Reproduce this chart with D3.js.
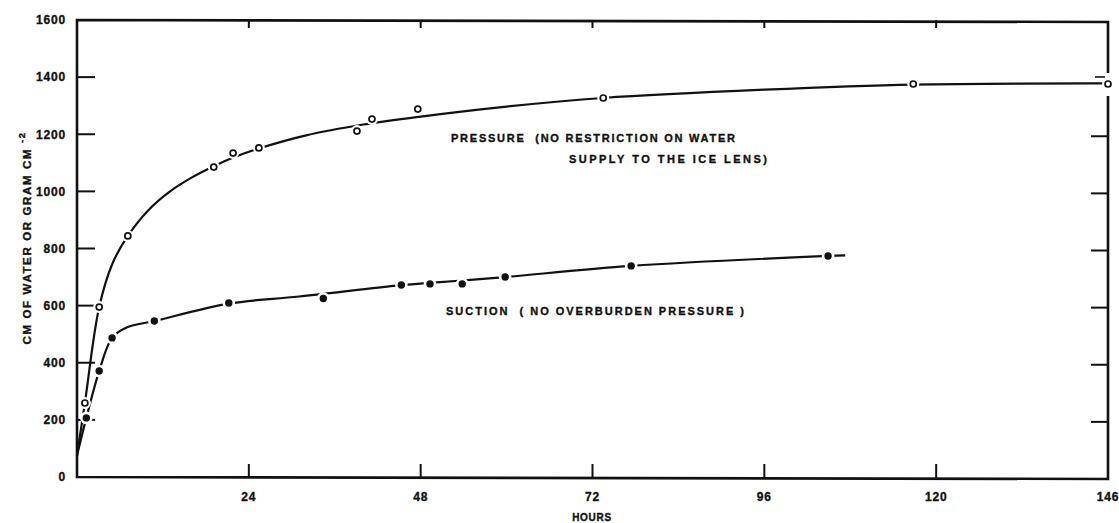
<!DOCTYPE html>
<html>
<head>
<meta charset="utf-8">
<script src="https://cdn.jsdelivr.net/npm/d3@7"></script>
<style>
  html, body { margin: 0; padding: 0; background: #fff; }
  svg { display: block; }
  text { font-family: "Liberation Sans", Arial, sans-serif; font-weight: bold; fill: #111; stroke: #111; stroke-width: 0.35; white-space: pre; }
</style>
</head>
<body>
<svg id="chart" width="1119" height="523"></svg>
<script>
// ---------------- data ----------------
const xTickValues = [24, 48, 72, 96, 120, 144];
const xTickLabels = ["24", "48", "72", "96", "120", "146"];
const yTickValues = [0, 200, 400, 600, 800, 1000, 1200, 1400, 1600];
const yTickLabels = ["0", "200", "400", "600", "800", "1000", "1200", "1400", "1600"];

// Pressure (no restriction on water supply) – open circles
const pressureHours  = [1.1, 3.1, 7.1, 19.1, 21.8, 25.4, 39.1, 41.2, 47.6, 73.5, 116.8, 144];
const pressureValues = [259, 595, 844, 1085, 1134, 1152, 1211, 1253, 1288, 1327, 1376, 1376];
// drawn curve for pressure
const pressureCurveHours  = [0, 1.1, 3.1, 5, 7.1, 10, 13, 16, 19.1, 22, 25.4, 32, 40, 48, 60, 73.5, 96, 116.8, 144];
const pressureCurveValues = [75, 259, 595, 750, 844, 935, 1000, 1048, 1088, 1120, 1150, 1196, 1234, 1262, 1297, 1327, 1356, 1374, 1378];

// Suction (no overburden pressure) – filled dots
const suctionHours  = [1.3, 3.1, 4.9, 10.8, 21.2, 34.4, 45.3, 49.3, 53.8, 59.8, 77.4, 104.9];
const suctionValues = [207, 371, 487, 546, 609, 625, 672, 676, 676, 700, 739, 774];
// drawn curve for suction
const suctionCurveHours  = [0, 1.3, 3.1, 4.9, 7, 10.8, 21.2, 31, 45.3, 49.3, 53.8, 59.8, 77.4, 104.9, 107.3];
const suctionCurveValues = [75, 207, 371, 487, 524, 546, 607, 632, 672, 680, 688, 700, 739, 774, 776];

const yTitle = "CM OF WATER OR GRAM CM";
const yTitleSup = "-2";
const xTitle = "HOURS";
const pressureLabel1 = "PRESSURE  (NO RESTRICTION ON WATER";
const pressureLabel2 = "SUPPLY TO THE ICE LENS)";
const suctionLabel = "SUCTION  ( NO OVERBURDEN PRESSURE )";

// ---------------- layout ----------------
const L = 77, R = 1108, T = 20, B = 477;
const svg = d3.select("#chart");
const x = d3.scaleLinear().domain([0, 144]).range([L, R]);
const y = d3.scaleLinear().domain([0, 1600]).range([B, T]);

const ink = "#111";

// frame with gap on the right where the pressure curve meets it
const lastP = y(pressureValues[pressureValues.length - 1]);
svg.append("path")
  .attr("d", `M${R},${lastP - 11} L${R},${T + 2} L${L},${T} L${L},${B} L${R},${B + 2} L${R},${lastP + 12}`)
  .attr("fill", "none").attr("stroke", ink).attr("stroke-width", 2.6)
  .attr("stroke-linejoin", "miter");

// small bar above the last pressure point
svg.append("line")
  .attr("x1", R - 13).attr("x2", R - 3)
  .attr("y1", lastP - 7).attr("y2", lastP - 7)
  .attr("stroke", ink).attr("stroke-width", 1.6);

// y ticks (left inward, right inward)
const innerY = yTickValues.filter(v => v > 0 && v < 1600);
svg.selectAll(".ytl").data(innerY).join("line")
  .attr("x1", L).attr("x2", L + 18)
  .attr("y1", d => y(d)).attr("y2", d => y(d))
  .attr("stroke", ink).attr("stroke-width", 2);
svg.selectAll(".ytr").data(innerY.filter(v => v < 1400)).join("line")
  .attr("x1", R).attr("x2", R - 17)
  .attr("y1", d => y(d) + 2).attr("y2", d => y(d) + 2)
  .attr("stroke", ink).attr("stroke-width", 2);

// x ticks bottom (upward) and top (downward)
const innerX = xTickValues.filter(v => v < 144);
svg.selectAll(".xtb").data(innerX).join("line")
  .attr("x1", d => x(d)).attr("x2", d => x(d))
  .attr("y1", B + 1).attr("y2", B - 13)
  .attr("stroke", ink).attr("stroke-width", 2);
svg.selectAll(".xtt").data(innerX).join("line")
  .attr("x1", d => x(d)).attr("x2", d => x(d))
  .attr("y1", T).attr("y2", T + 8)
  .attr("stroke", ink).attr("stroke-width", 2);

// tick labels
svg.selectAll(".ylab").data(yTickValues).join("text")
  .attr("x", L - 11).attr("y", d => y(d))
  .attr("dy", "0.36em").attr("text-anchor", "end")
  .attr("font-size", 12).attr("letter-spacing", 0.8)
  .text((d, i) => yTickLabels[i]);

svg.selectAll(".xlab").data(xTickValues).join("text")
  .attr("x", d => x(d)).attr("y", 501)
  .attr("text-anchor", "middle")
  .attr("font-size", 12).attr("letter-spacing", 0.8)
  .text((d, i) => xTickLabels[i]);

// axis titles
svg.append("text")
  .attr("x", 592).attr("y", 521)
  .attr("text-anchor", "middle").attr("font-size", 10).attr("letter-spacing", 0.7)
  .text(xTitle);

const yt = svg.append("g").attr("transform", "translate(31,247) rotate(-90)");
yt.append("text")
  .attr("x", 0).attr("y", 0).attr("text-anchor", "middle")
  .attr("font-size", 11.5)
  .attr("textLength", 195).attr("lengthAdjust", "spacing")
  .text(yTitle);
yt.append("text")
  .attr("x", 104).attr("y", -6).attr("text-anchor", "start")
  .attr("font-size", 9.5).attr("letter-spacing", 1.5)
  .text(yTitleSup);

// curves
const line = d3.line().x(d => x(d[0])).y(d => y(d[1])).curve(d3.curveCatmullRom.alpha(0.5));
svg.append("path")
  .attr("d", line(d3.zip(pressureCurveHours, pressureCurveValues)))
  .attr("fill", "none").attr("stroke", ink).attr("stroke-width", 2.2);
svg.append("path")
  .attr("d", line(d3.zip(suctionCurveHours, suctionCurveValues)))
  .attr("fill", "none").attr("stroke", ink).attr("stroke-width", 2.2);

// markers with white halos (gaps in the line)
const pData = d3.zip(pressureHours, pressureValues);
const sData = d3.zip(suctionHours, suctionValues);
svg.selectAll(".ph").data(pData).join("circle")
  .attr("cx", d => x(d[0])).attr("cy", d => y(d[1])).attr("r", 6)
  .attr("fill", "#fff");
svg.selectAll(".sh").data(sData).join("circle")
  .attr("cx", d => x(d[0])).attr("cy", d => y(d[1])).attr("r", 6.3)
  .attr("fill", "#fff");
svg.selectAll(".pm").data(pData).join("circle")
  .attr("cx", d => x(d[0])).attr("cy", d => y(d[1])).attr("r", 3)
  .attr("fill", "#fff").attr("stroke", ink).attr("stroke-width", 1.7);
svg.selectAll(".sm").data(sData).join("circle")
  .attr("cx", d => x(d[0])).attr("cy", d => y(d[1])).attr("r", 3.7)
  .attr("fill", ink);

// annotations
svg.append("text").attr("x", 451).attr("y", 142)
  .attr("font-size", 11).attr("textLength", 284).attr("lengthAdjust", "spacing")
  .text(pressureLabel1);
svg.append("text").attr("x", 569).attr("y", 163)
  .attr("font-size", 11).attr("textLength", 198).attr("lengthAdjust", "spacing")
  .text(pressureLabel2);
svg.append("text").attr("x", 446).attr("y", 315)
  .attr("font-size", 11).attr("textLength", 298).attr("lengthAdjust", "spacing")
  .text(suctionLabel);
</script>
</body>
</html>
